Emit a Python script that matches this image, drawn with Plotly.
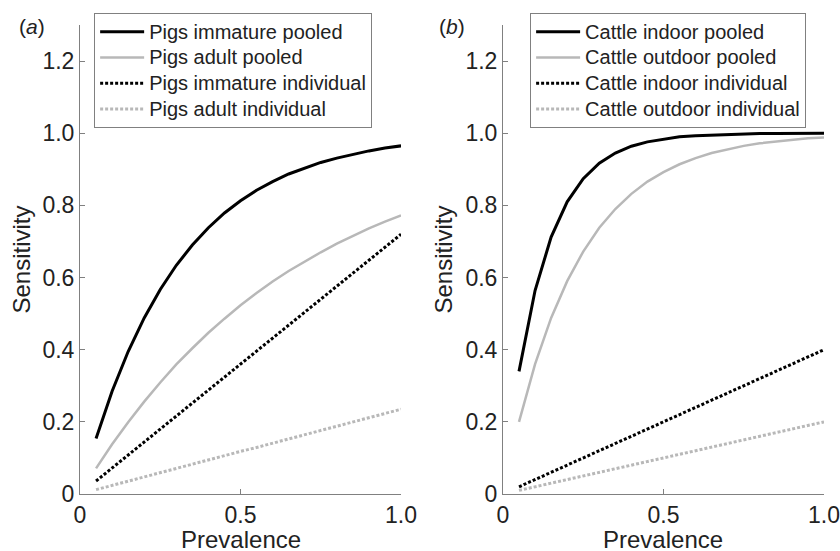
import plotly.graph_objects as go

prevalence = [0.05, 0.10, 0.15, 0.20, 0.25, 0.30, 0.35, 0.40, 0.45, 0.50,
              0.55, 0.60, 0.65, 0.70, 0.75, 0.80, 0.85, 0.90, 0.95, 1.00]

pigs_immature_pooled = [0.154, 0.285, 0.395, 0.488, 0.567, 0.634, 0.690, 0.738, 0.779, 0.813,
                        0.842, 0.866, 0.887, 0.904, 0.919, 0.931, 0.942, 0.951, 0.959, 0.965]
pigs_adult_pooled = [0.071, 0.138, 0.199, 0.256, 0.309, 0.359, 0.404, 0.447, 0.486, 0.523,
                     0.557, 0.589, 0.618, 0.645, 0.670, 0.694, 0.716, 0.736, 0.755, 0.772]
pigs_immature_individual = [0.036, 0.072, 0.108, 0.144, 0.180, 0.216, 0.252, 0.288, 0.324, 0.360,
                            0.396, 0.432, 0.468, 0.504, 0.540, 0.576, 0.612, 0.648, 0.684, 0.720]
pigs_adult_individual = [0.012, 0.024, 0.035, 0.047, 0.059, 0.071, 0.082, 0.094, 0.106, 0.118,
                         0.129, 0.141, 0.153, 0.165, 0.176, 0.188, 0.200, 0.212, 0.223, 0.235]

cattle_indoor_pooled = [0.340, 0.564, 0.712, 0.810, 0.874, 0.917, 0.945, 0.964, 0.976, 0.984,
                        0.990, 0.993, 0.995, 0.997, 0.998, 0.999, 0.999, 0.999, 1.000, 1.000]
cattle_outdoor_pooled = [0.200, 0.360, 0.488, 0.590, 0.672, 0.738, 0.790, 0.832, 0.866, 0.892,
                         0.914, 0.931, 0.945, 0.956, 0.965, 0.972, 0.977, 0.982, 0.986, 0.988]
cattle_indoor_individual = [0.020, 0.040, 0.060, 0.080, 0.100, 0.120, 0.140, 0.160, 0.180, 0.200,
                            0.220, 0.240, 0.260, 0.280, 0.300, 0.320, 0.340, 0.360, 0.380, 0.400]
cattle_outdoor_individual = [0.010, 0.020, 0.030, 0.040, 0.050, 0.060, 0.070, 0.080, 0.090, 0.100,
                             0.110, 0.120, 0.130, 0.140, 0.150, 0.160, 0.170, 0.180, 0.190, 0.200]

x_tickvals = [0, 0.5, 1.0]
x_ticktext = ["0", "0.5", "1.0"]
y_tickvals = [0, 0.2, 0.4, 0.6, 0.8, 1.0, 1.2]
y_ticktext = ["0", "0.2", "0.4", "0.6", "0.8", "1.0", "1.2"]

BLACK = "#000000"
GREY = "#b8b8b8"
FONT = "Liberation Sans, Arial, sans-serif"
DOT = "3px,2px"

fig = go.Figure()

series_a = [
    ("Pigs immature pooled", pigs_immature_pooled, BLACK, "solid", 3),
    ("Pigs adult pooled", pigs_adult_pooled, GREY, "solid", 2.5),
    ("Pigs immature individual", pigs_immature_individual, BLACK, DOT, 3),
    ("Pigs adult individual", pigs_adult_individual, GREY, DOT, 3),
]
series_b = [
    ("Cattle indoor pooled", cattle_indoor_pooled, BLACK, "solid", 3),
    ("Cattle outdoor pooled", cattle_outdoor_pooled, GREY, "solid", 2.5),
    ("Cattle indoor individual", cattle_indoor_individual, BLACK, DOT, 3),
    ("Cattle outdoor individual", cattle_outdoor_individual, GREY, DOT, 3),
]


def legend_label(s):
    return "<span style='font-size:20px'>" + s + "</span>"


for name, ys, col, dash, w in series_a:
    fig.add_trace(go.Scatter(x=prevalence, y=ys, name=legend_label(name), mode="lines",
                             line=dict(color=col, dash=dash, width=w),
                             xaxis="x", yaxis="y", legend="legend"))
for name, ys, col, dash, w in series_b:
    fig.add_trace(go.Scatter(x=prevalence, y=ys, name=legend_label(name), mode="lines",
                             line=dict(color=col, dash=dash, width=w),
                             xaxis="x2", yaxis="y2", legend="legend2"))

axis_common = dict(showline=True, linecolor="#808080", linewidth=1, showgrid=False,
                   zeroline=False, ticks="inside", ticklen=5, tickcolor="#808080",
                   automargin=False,
                   tickfont=dict(family=FONT, size=23, color="#222"))

xa = dict(axis_common, range=[0, 1.0], tickvals=x_tickvals, ticktext=x_ticktext)
ya = dict(axis_common, range=[0, 1.3], tickvals=y_tickvals, ticktext=y_ticktext,
          title=dict(text="Sensitivity", font=dict(family=FONT, size=24, color="#222"), standoff=5))

legend_common = dict(bgcolor="white", bordercolor="#808080", borderwidth=1,
                     font=dict(family=FONT, size=17.5, color="#222"),
                     xanchor="left", yanchor="top", tracegroupgap=0, itemwidth=44)

title_font = dict(family=FONT, size=24, color="#222")

fig.update_layout(
    width=840, height=551,
    margin=dict(l=80, r=16, t=25, b=57),
    paper_bgcolor="white", plot_bgcolor="white",
    xaxis=dict(xa, domain=[0, 0.4315], anchor="y"),
    yaxis=dict(ya, domain=[0, 1], anchor="x"),
    xaxis2=dict(xa, domain=[0.5685, 1], anchor="y2"),
    yaxis2=dict(ya, domain=[0, 1], anchor="x2"),
    legend=dict(legend_common, x=0.019, y=1.026),
    legend2=dict(legend_common, x=0.605, y=1.026),
    annotations=[
        dict(text="(<i>a</i>)", x=-0.085, y=0.996, xref="paper", yref="paper",
             xanchor="left", yanchor="middle", showarrow=False,
             font=dict(family=FONT, size=21, color="#222")),
        dict(text="(<i>b</i>)", x=0.48, y=0.996, xref="paper", yref="paper",
             xanchor="left", yanchor="middle", showarrow=False,
             font=dict(family=FONT, size=21, color="#222")),
        dict(text="Prevalence", x=0.5, y=-0.096, xref="x domain", yref="paper",
             xanchor="center", yanchor="middle", showarrow=False, font=title_font),
        dict(text="Prevalence", x=0.5, y=-0.096, xref="x2 domain", yref="paper",
             xanchor="center", yanchor="middle", showarrow=False, font=title_font),
    ],
)

fig.write_html("out.html", config={"displayModeBar": False},
               post_script="document.body.style.margin='0';")
